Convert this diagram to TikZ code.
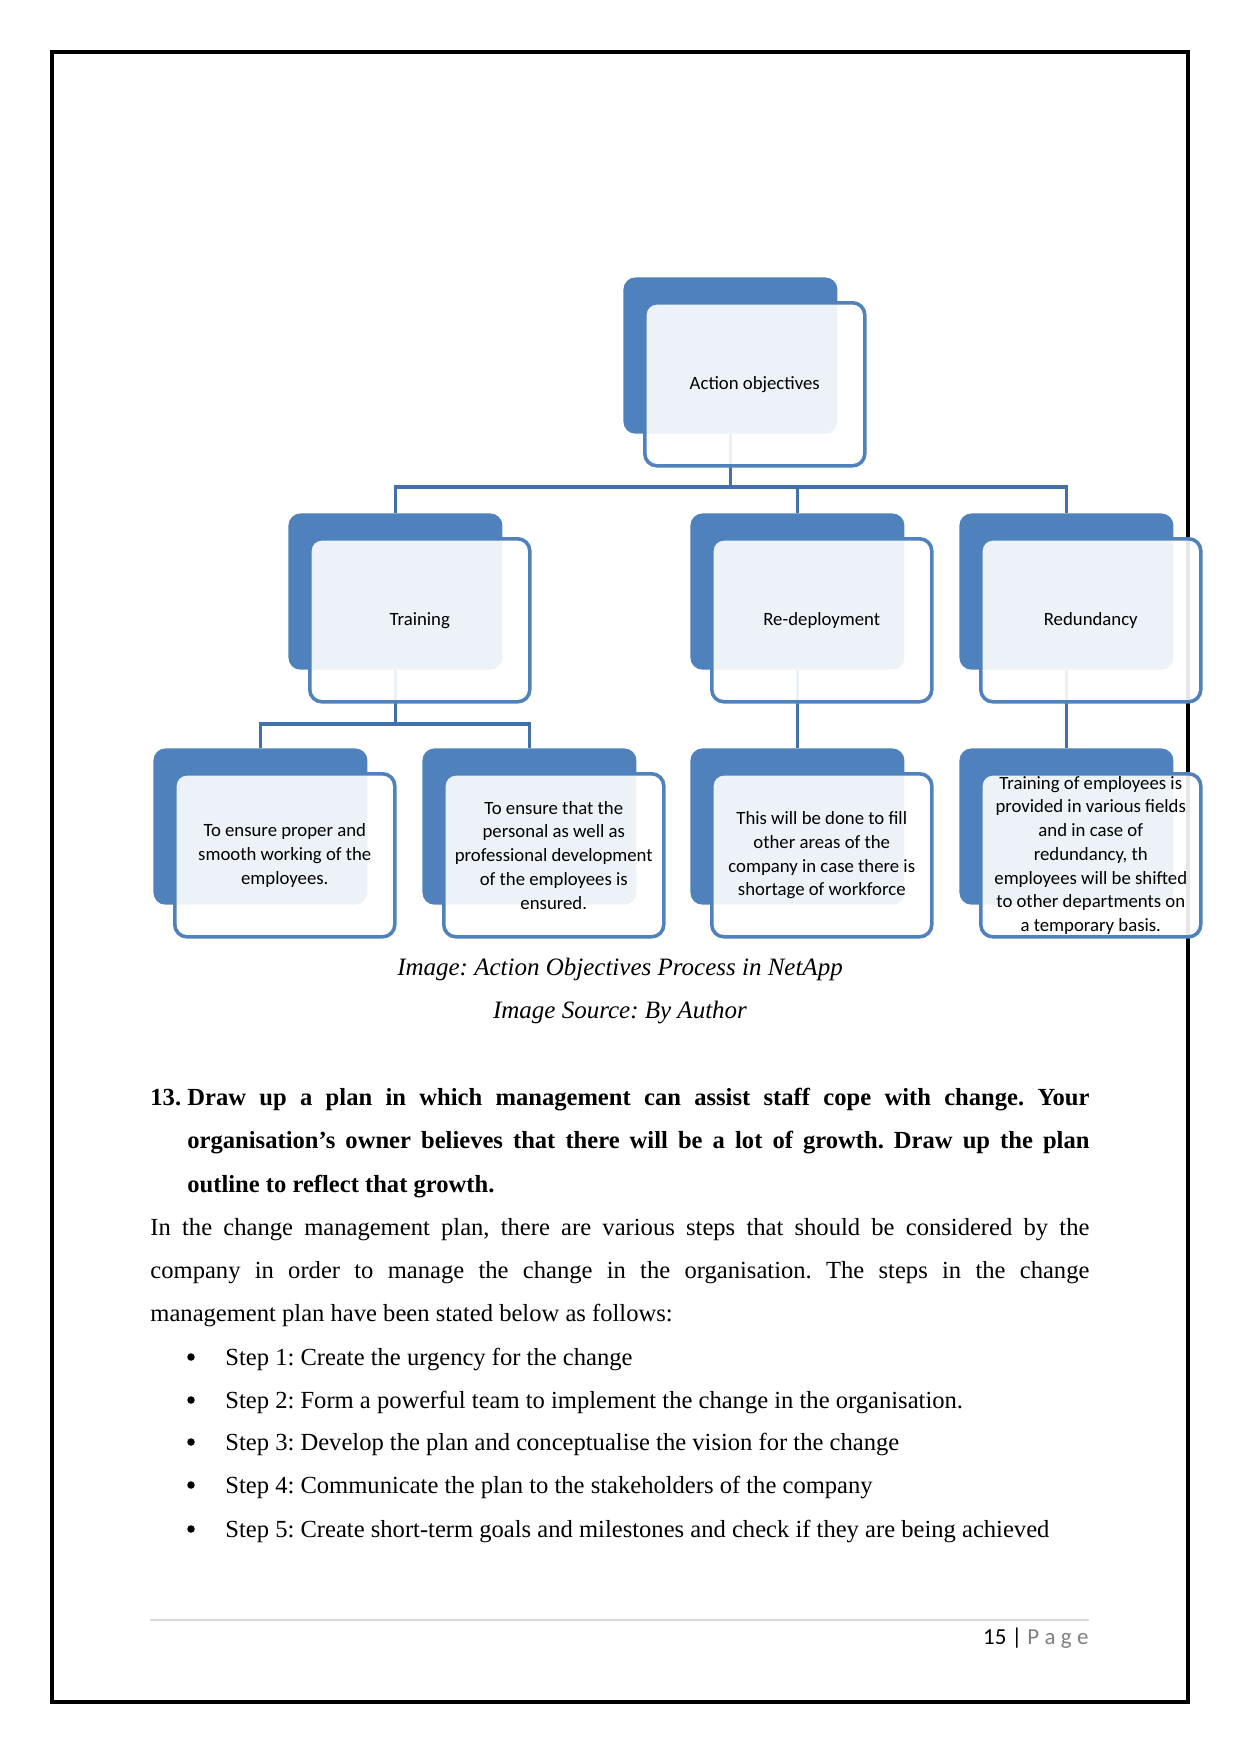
\documentclass[tikz,border=0pt]{standalone}
\usepackage{fontspec}
\setmainfont{Liberation Serif}
\newfontfamily\carlito{Carlito}
\usetikzlibrary{calc}
\definecolor{boxblue}{RGB}{79,129,189}
\definecolor{connblue}{RGB}{65,113,168}
\definecolor{footgray}{RGB}{127,127,127}
\definecolor{rulegray}{RGB}{217,217,217}
\frenchspacing
\begin{document}
\frenchspacing
\begin{tikzpicture}[x=0.48pt,y=-0.48pt,
  darkbox/.style={fill=boxblue, rounded corners=5.8pt, minimum width=102.72pt, minimum height=75pt, inner sep=0pt, anchor=north west},
  lightbox/.style={draw=boxblue, line width=1.7pt, fill=white, fill opacity=0.9, rounded corners=5.8pt, minimum width=105.6pt, minimum height=78.24pt, inner sep=0pt, anchor=north west},
  boxtext/.style={font=\carlito\fontsize{9}{11.4}\selectfont, align=center, inner sep=0pt, text=black},
  conn/.style={draw=connblue, line width=1.5pt},
  body/.style={anchor=base west, inner sep=0pt, font=\fontsize{11.8}{14}\selectfont},
  bul/.style={circle, fill=black, inner sep=0pt, minimum size=3.6pt},
  caption/.style={anchor=base, inner sep=0pt, font=\fontsize{12}{14}\selectfont\itshape}
]
\useasboundingbox (0,0) rectangle (1241,1754);
% page border
\draw[line width=1.7pt] (52,52) rectangle (1188,1702);

% dark back boxes
\node[darkbox] (top) at (623,277) {};
\node[darkbox] (tr) at (288,513) {};
\node[darkbox] (rp) at (690,513) {};
\node[darkbox] (rd) at (959,513) {};
\node[darkbox] (b1) at (153,748) {};
\node[darkbox] (b2) at (422,748) {};
\node[darkbox] (b3) at (690,748) {};
\node[darkbox] (b4) at (959,748) {};

% connectors
\coordinate (barA) at (0,487);
\coordinate (barB) at (0,724);
\draw[conn] (top.south) -- (top.south |- barA);
\draw[conn] (tr.north) |- (rd.north |- barA) -- (rd.north);
\draw[conn] (rp.north) -- (rp.north |- barA);
\draw[conn] (tr.south) -- (tr.south |- barB);
\draw[conn] (b1.north) |- (b2.north |- barB) -- (b2.north);
\draw[conn] (rp.south) -- (b3.north);
\draw[conn] (rd.south) -- (b4.north);

% light front boxes
\foreach \n in {top,tr,rp,rd,b1,b2,b3,b4}{
  \node[lightbox] (\n l) at ($(\n.north west)+(20,24)$) {};
}

% texts
\node[boxtext] (topt) at (topl.center) {Action objectives};
\node[boxtext] (trt) at (trl.center) {Training};
\node[boxtext] (rpt) at (rpl.center) {Re-deployment};
\node[boxtext] (rdt) at (rdl.center) {Redundancy};
\node[boxtext] (b1t) at (b1l.center) {To ensure proper and\\smooth working of the\\employees.};
\node[boxtext] (b2t) at (b2l.center) {To ensure that the\\personal as well as\\professional development\\of the employees is\\ensured.};
\node[boxtext] (b3t) at (b3l.center) {This will be done to fill\\other areas of the\\company in case there is\\shortage of workforce};
\node[boxtext] (b4t) at (b4l.center) {Training of employees is\\provided in various fields\\and in case of\\redundancy, th\\employees will be shifted\\to other departments on\\a temporary basis.};

% captions
\node[caption] (cap1) at (620,975) {Image: Action Objectives Process in NetApp};
\node[caption] (cap2) at (620,1018) {Image Source: By Author};

% heading
\node[body] (h0) at (150,1105) {\bfseries 13.};
\node[body] (h1) at (187,1105) {\bfseries\makebox[433pt][s]{Draw up a plan in which management can assist staff cope with change. Your}};
\node[body] (h2) at (187,1148) {\bfseries\makebox[433pt][s]{organisation’s owner believes that there will be a lot of growth. Draw up the plan}};
\node[body] (h3) at (187,1192) {\bfseries outline to reflect that growth.};

% paragraph
\node[body] (p1) at (150,1235) {\makebox[450.7pt][s]{In the change management plan, there are various steps that should be considered by the}};
\node[body] (p2) at (150,1278) {\makebox[450.7pt][s]{company in order to manage the change in the organisation. The steps in the change}};
\node[body] (p3) at (150,1321) {management plan have been stated below as follows:};

% bullets
\node[bul] (d1) at (191,1357) {};
\node[bul] (d2) at (191,1400) {};
\node[bul] (d3) at (191,1442) {};
\node[bul] (d4) at (191,1485) {};
\node[bul] (d5) at (191,1529) {};
\node[body] (s1) at (225,1365) {Step 1: Create the urgency for the change};
\node[body] (s2) at (225,1408) {Step 2: Form a powerful team to implement the change in the organisation.};
\node[body] (s3) at (225,1450) {Step 3: Develop the plan and conceptualise the vision for the change};
\node[body] (s4) at (225,1493) {Step 4: Communicate the plan to the stakeholders of the company};
\node[body] (s5) at (225,1537) {Step 5: Create short-term goals and milestones and check if they are being achieved};

% footer
\coordinate (fl) at (150,1620);
\coordinate (fr) at (1089,1620);
\draw[rulegray, line width=0.6pt] (fl) -- (fr);
\node[anchor=base east, inner sep=0pt, font=\carlito\fontsize{11}{13}\selectfont] (pg) at (1089,1644) {15 | \textcolor{footgray}{P\kern2.6pt a\kern2.6pt g\kern2.6pt e}};
\end{tikzpicture}
\end{document}
